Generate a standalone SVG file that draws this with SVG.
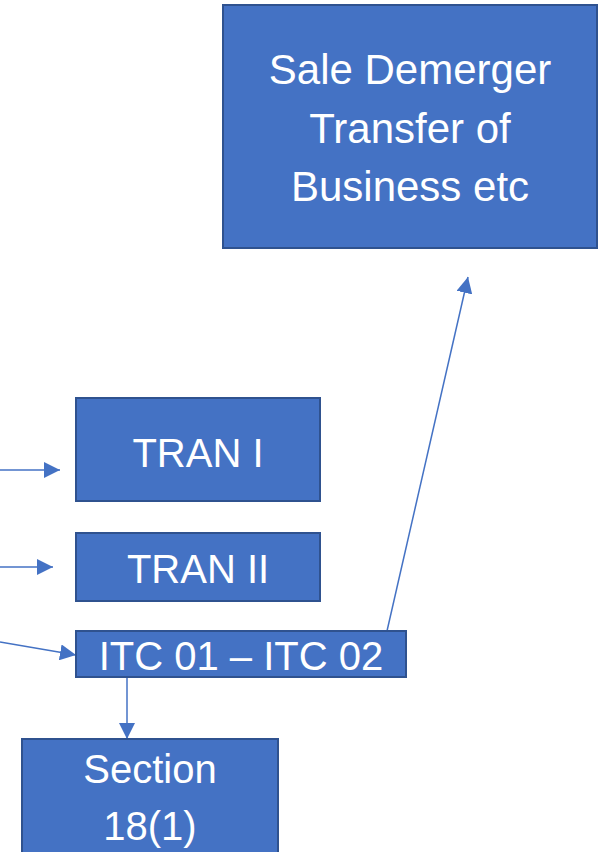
<svg xmlns="http://www.w3.org/2000/svg" width="600" height="852" viewBox="0 0 600 852">
  <style>
    .box { fill: #4472C4; stroke: #2F528F; stroke-width: 2; }
    .lbl { fill: #FFFFFF; font-family: "Liberation Sans", Arial, sans-serif; font-size: 40px; text-anchor: middle; }
    .big { font-size: 42px; }
    .conn { stroke: #4472C4; stroke-width: 1.5; fill: none; marker-end: url(#arrow); }
  </style>
  <defs>
    <marker id="arrow" viewBox="0 0 16 16" refX="16" refY="8" markerWidth="16" markerHeight="16" markerUnits="userSpaceOnUse" orient="auto">
      <path d="M0,0 L16,8 L0,16 Z" fill="#4472C4"/>
    </marker>
  </defs>
  <rect width="600" height="852" fill="#FFFFFF"/>

  <g id="connectors">
    <line class="conn" x1="0" y1="470" x2="60" y2="470"/>
    <line class="conn" x1="0" y1="567" x2="53" y2="567"/>
    <line class="conn" x1="0" y1="642" x2="76" y2="655"/>
    <line class="conn" x1="387" y1="631" x2="468" y2="277"/>
    <line class="conn" x1="127" y1="677" x2="127" y2="739"/>
  </g>

  <g id="sale-demerger">
    <rect class="box" x="223" y="5" width="374" height="243"/>
    <text class="lbl big" x="410" y="84">Sale Demerger</text>
    <text class="lbl big" x="410" y="143">Transfer of</text>
    <text class="lbl big" x="410" y="201">Business etc</text>
  </g>

  <g id="tran-1">
    <rect class="box" x="76" y="398" width="244" height="103"/>
    <text class="lbl" x="198" y="467">TRAN I</text>
  </g>

  <g id="tran-2">
    <rect class="box" x="76" y="533" width="244" height="68"/>
    <text class="lbl" x="198" y="583">TRAN II</text>
  </g>

  <g id="itc">
    <rect class="box" x="76" y="631" width="330" height="46"/>
    <text class="lbl" x="241" y="670">ITC 01 – ITC 02</text>
  </g>

  <g id="section-18">
    <rect class="box" x="22" y="739" width="256" height="130"/>
    <text class="lbl" x="150" y="783">Section</text>
    <text class="lbl" x="150" y="840">18(1)</text>
  </g>
</svg>
